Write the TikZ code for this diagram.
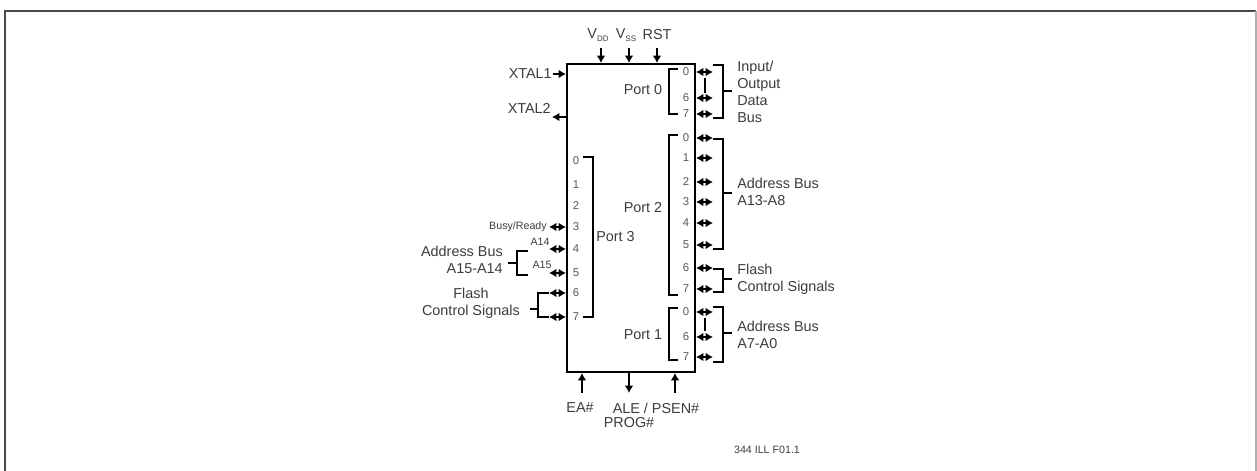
\documentclass[tikz,border=0pt]{standalone}
\usepackage{fontspec}
\setmainfont{Liberation Sans}
\usetikzlibrary{arrows.meta}
\definecolor{txt}{HTML}{3C3C3C}
\definecolor{pinc}{HTML}{585858}
\definecolor{frameD}{HTML}{4A4A4A}
\definecolor{frameL}{HTML}{B0B0B0}
\tikzset{
  lbl/.style={font=\fontsize{10.8}{12.75}\selectfont, text=txt, inner sep=0pt},
  sml/.style={font=\fontsize{8}{9}\selectfont, text=txt, inner sep=0pt},
  pinno/.style={font=\fontsize{8.5}{9}\selectfont, text=pinc, inner sep=0pt},
  wire/.style={line width=1.5pt, black},
  brk/.style={line width=1.2pt, black},
  tipA/.tip={Latex[length=5.5pt,width=6.5pt]},
  onearr/.style={wire, -tipA},
  biarr/.style={wire, tipA-tipA},
}
\begin{document}
\begin{tikzpicture}[x=0.75pt,y=-0.75pt]
\useasboundingbox (0,0) rectangle (1257,471);
% frame
\draw[frameD, line width=1.8pt] (5,471) -- (5,11) -- (1256,11);
\draw[frameL, line width=1.5pt] (1256,11) -- (1256,471);

% chip
\node[draw, line width=1.5pt, minimum width=96pt, minimum height=231pt, inner sep=0pt] (chip) at (631,218) {};

% top pins
\node[lbl] (vdd) at (598,35) {V\raisebox{-2pt}{\fontsize{6}{7}\selectfont DD}};
\node[lbl] (vss) at (626,35) {V\raisebox{-2pt}{\fontsize{6}{7}\selectfont SS}};
\node[lbl] (rst) at (657,35) {RST};
\coordinate (tvdd) at (601,48);
\coordinate (tvss) at (629,48);
\coordinate (trst) at (657,48);
\draw[onearr] (tvdd) -- (tvdd |- chip.north);
\draw[onearr] (tvss) -- (tvss |- chip.north);
\draw[onearr] (trst) -- (trst |- chip.north);

% xtal
\node[lbl, anchor=east] (x1) at (552,74) {XTAL1};
\node[lbl, anchor=east] (x2) at (551,108) {XTAL2};
\coordinate (x1e) at (553,74);
\coordinate (x2e) at (552,117);
\draw[onearr] (x1e) -- (x1e -| chip.west);
\draw[onearr] (x2e -| chip.west) -- (x2e);

% internal port labels
\node[lbl] (p0) at (643,90) {Port 0};
\node[lbl] (p2) at (643,208) {Port 2};
\node[lbl] (p1) at (643,335) {Port 1};
\node[lbl, anchor=west] (p3) at (596,237) {Port 3};

% internal brackets
\draw[brk] (678,69) -- (669,69) -- (669,114) -- (678,114);
\draw[brk] (678,135) -- (669,135) -- (669,295) -- (678,295);
\draw[brk] (678,308) -- (669,308) -- (669,360) -- (678,360);
\draw[brk] (583,157) -- (593,157) -- (593,317) -- (583,317);

% right pins
\foreach \n/\y [count=\i] in {0/72,6/98,7/114,0/138,1/158,2/182,3/202,4/223,5/245,6/268,7/289,0/312,6/337,7/357}{
  \node[pinno] (rp\i) at (686,\y) {\n};
  \coordinate (re\i) at (713,\y);
  \draw[biarr] (re\i -| chip.east) -- (re\i);
}
\coordinate (d0a) at (705,78); \coordinate (d0b) at (705,93);
\draw[line width=1.2pt] (d0a) -- (d0b);
\coordinate (d1a) at (705,318); \coordinate (d1b) at (705,331);
\draw[line width=1.2pt] (d1a) -- (d1b);

% right brackets
\draw[brk] (713,65) -- (723,65) -- (723,118) -- (713,118);
\draw[brk] (723,91) -- (732,91);
\draw[brk] (713,139) -- (723,139) -- (723,249) -- (713,249);
\draw[brk] (723,193) -- (732,193);
\draw[brk] (713,269) -- (723,269) -- (723,292) -- (713,292);
\draw[brk] (723,279) -- (732,279);
\draw[brk] (713,307) -- (723,307) -- (723,362) -- (713,362);
\draw[brk] (723,333) -- (732,333);

% right labels
\node[lbl, anchor=west, align=left] (io) at (737,92) {Input/\\Output\\Data\\Bus};
\node[lbl, anchor=west, align=left] (ab2) at (737,192) {Address Bus\\A13-A8};
\node[lbl, anchor=west, align=left] (fc2) at (737,279) {Flash\\Control Signals};
\node[lbl, anchor=west, align=left] (ab1) at (737,335) {Address Bus\\A7-A0};

% left pins (port 3)
\foreach \n/\y in {0/161,1/185,2/206,3/227,4/249,5/273,6/293,7/317}{
  \node[pinno] (lp\n) at (576,\y) {\n};
}
\foreach \n/\y in {3/227,4/249,5/273,6/293,7/317}{
  \coordinate (le\n) at (549,\y);
  \draw[biarr] (le\n -| chip.west) -- (le\n);
}
\node[sml, anchor=east] (busy) at (547,227) {Busy/Ready};
\node[sml] (a14) at (540,242) {A14};
\node[sml] (a15) at (542,265) {A15};

% left brackets
\draw[brk] (528,251) -- (517,251) -- (517,275) -- (528,275);
\draw[brk] (517,263) -- (508,263);
\draw[brk] (le6) -- (538,293) -- (538,317) -- (le7);
\draw[brk] (538,309) -- (530,309);
\node[lbl, anchor=east, align=right] (ab3) at (503,259.5) {Address Bus\\A15-A14};
\node[lbl, anchor=east, align=center] (fc3) at (520,303.5) {Flash\\Control Signals};

% bottom pins
\coordinate (bea) at (582,393);
\coordinate (bale) at (629,393);
\coordinate (bpsen) at (675,393);
\draw[onearr] (bea) -- (bea |- chip.south);
\draw[onearr] (bale |- chip.south) -- (bale);
\draw[onearr] (bpsen) -- (bpsen |- chip.south);
\node[lbl] (ea) at (580,408) {EA\#};
\node[lbl] (ale) at (656,408) {ALE / PSEN\#};
\node[lbl] (prog) at (629,423) {PROG\#};

\node[sml] (ref) at (767,450) {344 ILL F01.1};
\end{tikzpicture}
\end{document}
